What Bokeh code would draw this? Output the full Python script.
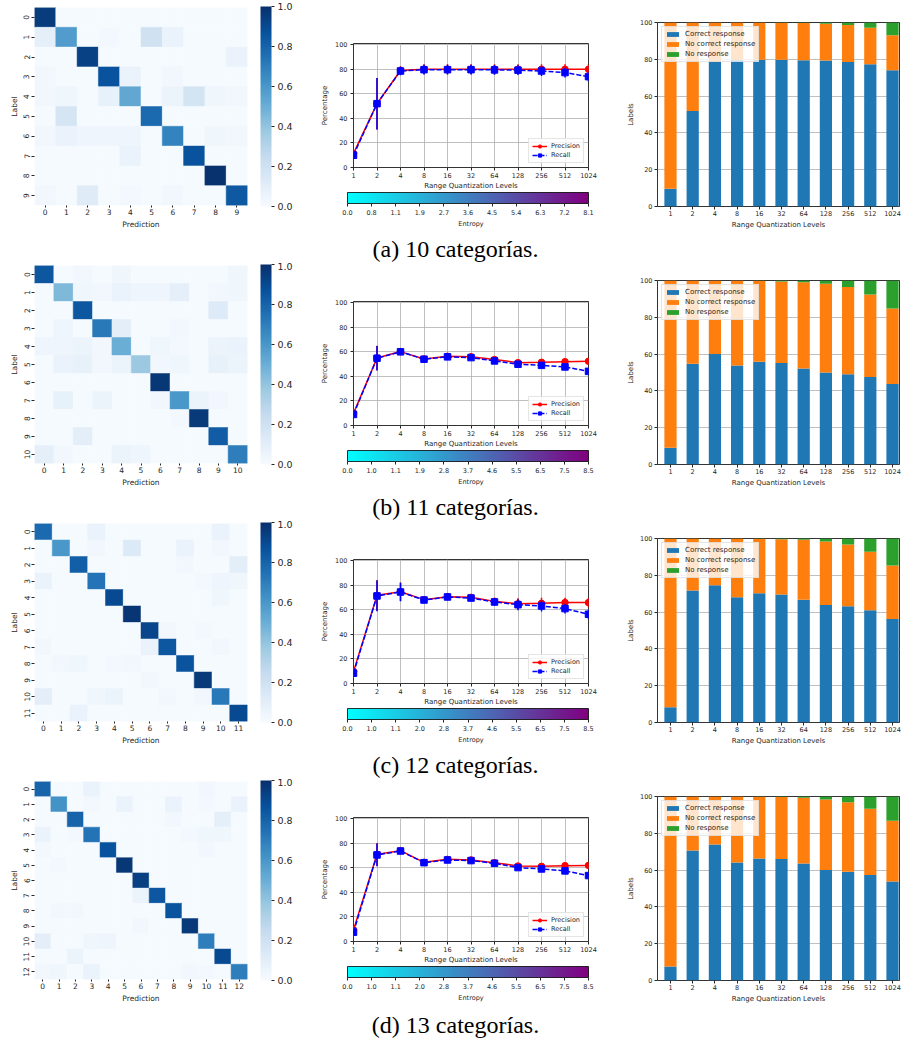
from bokeh.plotting import figure
from bokeh.layouts import row, column
from bokeh.models import (ColorBar, LinearColorMapper, FixedTicker, Range1d, FactorRange,
                          Legend, LegendItem, Title, Label, NumeralTickFormatter,
                          PrintfTickFormatter, ColumnDataSource)
from bokeh.palettes import Blues256
from bokeh.transform import linear_cmap
from bokeh.embed import file_html
from bokeh.resources import INLINE

# ---------------- data ----------------
levels = [1, 2, 4, 8, 16, 32, 64, 128, 256, 512, 1024]
level_labels = ["1", "2", "4", "8", "16", "32", "64", "128", "256", "512", "1024"]
captions = ["(a) 10 categorías.", "(b) 11 categorías.", "(c) 12 categorías.", "(d) 13 categorías."]
heat_ticks = [0.0, 0.2, 0.4, 0.6, 0.8, 1.0]
pct_ticks = [0, 20, 40, 60, 80, 100]
series_names = ["Correct response", "No correct response", "No response"]

entropy_a = ["0.0", "0.8", "1.1", "1.9", "2.7", "3.6", "4.5", "5.4", "6.3", "7.2", "8.1"]
entropy_b = ["0.0", "1.0", "1.1", "1.9", "2.8", "3.7", "4.6", "5.5", "6.5", "7.5", "8.5"]
entropy_c = ["0.0", "1.0", "1.1", "2.0", "2.8", "3.7", "4.6", "5.5", "6.5", "7.5", "8.5"]
entropy_d = ["0.0", "1.0", "1.1", "2.0", "2.8", "3.7", "4.6", "5.5", "6.5", "7.5", "8.5"]

precision_a = [11.4, 52.0, 79.0, 80.0, 80.0, 80.0, 80.0, 80.0, 80.0, 80.0, 80.0]
precision_err_a = [1.0, 21.0, 3.5, 4.0, 4.0, 4.0, 4.0, 4.0, 4.0, 4.0, 4.0]
recall_a = [10.0, 52.0, 78.6, 79.7, 79.7, 79.7, 79.5, 79.3, 78.6, 77.3, 74.0]
recall_err_a = [1.0, 21.0, 3.5, 4.0, 4.0, 4.0, 4.0, 4.0, 4.0, 4.0, 4.0]

precision_b = [10.0, 55.0, 60.2, 54.2, 56.4, 56.0, 53.7, 51.2, 51.5, 52.0, 52.3]
precision_err_b = [1.0, 10.0, 1.5, 1.5, 1.5, 1.5, 1.5, 1.8, 2.0, 2.0, 2.0]
recall_b = [9.0, 54.8, 60.0, 54.0, 55.9, 55.3, 52.6, 49.9, 49.0, 47.7, 44.1]
recall_err_b = [1.0, 10.0, 1.5, 1.5, 1.5, 1.5, 1.5, 1.8, 2.0, 2.0, 2.0]

precision_c = [9.7, 71.8, 74.8, 68.3, 70.7, 70.2, 66.9, 65.0, 65.3, 65.9, 65.9]
precision_err_c = [1.0, 12.5, 7.5, 2.5, 2.5, 2.5, 3.0, 4.5, 4.5, 4.0, 4.0]
recall_c = [8.4, 71.3, 74.5, 68.0, 70.5, 69.6, 66.4, 64.2, 63.1, 61.0, 56.4]
recall_err_c = [1.0, 12.5, 7.5, 2.5, 2.5, 2.5, 3.0, 4.5, 4.5, 4.0, 4.0]

precision_d = [9.5, 71.0, 74.0, 64.5, 66.9, 66.4, 64.2, 61.5, 61.2, 61.8, 62.0]
precision_err_d = [1.0, 9.3, 1.5, 1.5, 1.5, 1.5, 1.5, 1.5, 1.5, 1.5, 1.5]
recall_d = [7.6, 70.5, 73.7, 64.2, 66.4, 65.9, 63.7, 60.2, 59.1, 57.5, 53.7]
recall_err_d = [1.0, 9.3, 1.5, 1.5, 1.5, 1.5, 1.5, 1.5, 1.5, 1.5, 1.5]

correct_a = [9.6, 51.9, 78.6, 79.7, 79.7, 79.7, 79.5, 79.3, 78.6, 77.3, 74.0]
noresp_a = [0.0, 0.0, 0.0, 0.0, 0.0, 0.1, 0.3, 0.7, 1.3, 2.9, 6.9]
correct_b = [9.1, 54.7, 60.0, 53.8, 55.8, 55.1, 52.2, 50.0, 49.1, 47.5, 43.8]
noresp_b = [0.0, 0.0, 0.0, 0.0, 0.1, 0.5, 0.9, 1.8, 3.6, 7.6, 15.2]
correct_c = [8.3, 71.7, 74.6, 68.1, 70.3, 69.6, 66.7, 63.9, 63.2, 61.0, 56.3]
noresp_c = [0.0, 0.0, 0.0, 0.0, 0.1, 0.4, 0.7, 1.6, 3.3, 7.2, 14.7]
correct_d = [7.6, 70.7, 73.9, 64.1, 66.3, 66.1, 63.6, 60.0, 59.1, 57.4, 53.8]
noresp_d = [0.0, 0.0, 0.0, 0.0, 0.1, 0.3, 0.7, 1.6, 3.1, 6.7, 13.2]

# confusion matrices: diagonal + notable off-diagonal cells (row, col, value); rest ~ cm_base
cm_base = 0.01
cm_diag_a = [0.95, 0.58, 0.93, 0.87, 0.53, 0.78, 0.68, 0.87, 0.99, 0.84]
cm_off_a = [(1, 0, 0.09), (1, 5, 0.20), (1, 6, 0.07), (1, 3, 0.02), (2, 9, 0.07), (3, 4, 0.07),
            (3, 0, 0.03), (3, 6, 0.03), (4, 0, 0.03), (4, 1, 0.04), (4, 3, 0.08), (4, 6, 0.06),
            (4, 7, 0.18), (4, 8, 0.04), (4, 9, 0.03), (5, 1, 0.17), (6, 0, 0.03), (6, 1, 0.07),
            (6, 2, 0.05), (6, 3, 0.05), (6, 4, 0.05), (6, 8, 0.04), (6, 9, 0.03), (7, 4, 0.07),
            (9, 0, 0.03), (9, 2, 0.12), (9, 4, 0.02), (9, 6, 0.03)]
cm_diag_b = [0.85, 0.45, 0.85, 0.72, 0.50, 0.38, 0.97, 0.60, 0.96, 0.83, 0.70]
cm_off_b = [(0, 2, 0.03), (0, 4, 0.04), (0, 10, 0.04), (1, 2, 0.04), (1, 3, 0.03), (1, 4, 0.07),
            (1, 5, 0.05), (1, 6, 0.05), (1, 7, 0.09), (1, 9, 0.03), (1, 10, 0.04), (2, 9, 0.13),
            (3, 1, 0.05), (3, 4, 0.10), (3, 7, 0.03), (4, 0, 0.05), (4, 1, 0.05), (4, 2, 0.06),
            (4, 3, 0.03), (4, 6, 0.04), (4, 7, 0.02), (4, 9, 0.06), (4, 10, 0.07), (5, 1, 0.07),
            (5, 2, 0.08), (5, 3, 0.03), (5, 4, 0.06), (5, 6, 0.03), (5, 7, 0.04), (5, 9, 0.08),
            (5, 10, 0.06), (7, 1, 0.08), (7, 3, 0.06), (7, 6, 0.03), (7, 8, 0.06), (7, 9, 0.03),
            (8, 7, 0.02), (9, 2, 0.10), (10, 0, 0.09), (10, 1, 0.03), (10, 4, 0.06), (10, 5, 0.05)]
cm_diag_c = [0.78, 0.60, 0.82, 0.74, 0.90, 0.98, 0.92, 0.85, 0.86, 0.96, 0.72, 0.90]
cm_off_c = [(0, 3, 0.07), (0, 10, 0.07), (1, 3, 0.03), (1, 5, 0.14), (1, 8, 0.07), (1, 10, 0.03),
            (2, 8, 0.03), (2, 11, 0.10), (3, 0, 0.07), (3, 9, 0.02), (3, 10, 0.05), (3, 11, 0.04),
            (4, 10, 0.04), (6, 7, 0.03), (6, 9, 0.02), (7, 0, 0.03), (7, 6, 0.07), (7, 10, 0.03),
            (8, 1, 0.03), (8, 2, 0.04), (8, 4, 0.02), (8, 5, 0.03), (9, 6, 0.03), (10, 0, 0.10),
            (10, 3, 0.04), (10, 4, 0.06), (10, 7, 0.03), (10, 9, 0.03), (11, 2, 0.07)]
cm_diag_d = [0.80, 0.62, 0.80, 0.74, 0.87, 0.97, 0.94, 0.85, 0.86, 0.96, 0.70, 0.90, 0.70]
cm_off_d = [(0, 3, 0.07), (0, 10, 0.03), (1, 3, 0.02), (1, 5, 0.07), (1, 8, 0.07), (1, 10, 0.02),
            (1, 12, 0.07), (2, 8, 0.03), (2, 11, 0.09), (3, 0, 0.07), (3, 2, 0.02), (3, 9, 0.02),
            (3, 10, 0.04), (3, 11, 0.04), (4, 0, 0.02), (4, 10, 0.03), (5, 1, 0.02), (7, 6, 0.06),
            (8, 1, 0.03), (8, 2, 0.03), (9, 6, 0.03), (10, 0, 0.10), (10, 3, 0.04), (10, 4, 0.05),
            (11, 2, 0.06), (12, 0, 0.03), (12, 1, 0.04), (12, 3, 0.07), (12, 9, 0.03), (12, 10, 0.02)]

# ---------------- style ----------------
FONT = "DejaVu Sans"
TXT = "#262626"
BLUES = list(Blues256)[::-1]          # light -> dark
BAR_COLORS = ["#1f77b4", "#ff7f0e", "#2ca02c"]


def _interp_palette(c0, c1, n=256):
    out = []
    for i in range(n):
        t = i / (n - 1)
        r, g, b = (round(a + (bb - a) * t) for a, bb in zip(c0, c1))
        out.append("#%02x%02x%02x" % (r, g, b))
    return out


ENTROPY_PALETTE = _interp_palette((0, 255, 255), (128, 0, 128))

ROW_H = 227
HEAT_W, LINE_W, BAR_W = 318, 305, 279
TOTAL_W = HEAT_W + LINE_W + BAR_W


def style_axis(ax, tick_size, label_size):
    ax.major_label_text_font = FONT
    ax.major_label_text_font_size = tick_size
    ax.axis_label_text_font = FONT
    ax.axis_label_text_font_size = label_size
    ax.axis_label_text_font_style = "normal"
    ax.major_label_text_color = TXT
    ax.axis_label_text_color = TXT
    ax.major_tick_line_color = TXT
    ax.major_tick_in = 0
    ax.minor_tick_line_color = None


def heat_panel(diag, off, pad):
    n = len(diag)
    names = [str(i) for i in range(n)]
    offd = {(r, c): v for r, c, v in off}
    xs, ys, vs = [], [], []
    for r in range(n):
        for c in range(n):
            xs.append(names[c])
            ys.append(names[r])
            vs.append(diag[r] if r == c else offd.get((r, c), cm_base))
    src = ColumnDataSource(dict(x=xs, y=ys, v=vs))
    p = figure(width=HEAT_W, height=ROW_H + pad, x_range=FactorRange(*names),
               y_range=FactorRange(*names[::-1]), output_backend="svg", toolbar_location=None,
               frame_align=False,
               min_border_left=34, min_border_right=71, min_border_top=3 + pad, min_border_bottom=24)
    p.outline_line_color = None
    p.grid.visible = False
    cmap = linear_cmap("v", BLUES, 0, 1)
    p.rect(x="x", y="y", width=1, height=1, source=src, fill_color=cmap, line_color=cmap,
           line_width=0.5)
    p.xaxis.axis_label = "Prediction"
    p.yaxis.axis_label = "Label"
    for ax in (p.xaxis[0], p.yaxis[0]):
        style_axis(ax, "7.5px", "7.5px")
        ax.axis_line_color = None
        ax.major_label_standoff = 2
        ax.axis_label_standoff = 2
    p.xaxis.major_tick_out = 2
    p.xaxis.major_label_standoff = 1
    p.yaxis.major_tick_out = 3
    p.yaxis.major_label_orientation = "vertical"
    cb = ColorBar(color_mapper=LinearColorMapper(palette=BLUES, low=0, high=1),
                  ticker=FixedTicker(ticks=heat_ticks), formatter=PrintfTickFormatter(format="%.1f"),
                  width=11, height=200, location="center_left", margin=0, padding=13,
                  major_tick_line_color=TXT, major_tick_in=0, major_tick_out=3, label_standoff=3,
                  major_label_text_font=FONT, major_label_text_font_size="9.5px",
                  major_label_text_color=TXT, bar_line_color=None, border_line_color=None,
                  background_fill_color=None)
    p.add_layout(cb, "right")
    return p


def line_panel(prec, prec_err, rec, rec_err, ent, pad):
    p = figure(width=LINE_W, height=ROW_H + pad, x_axis_type="log", x_range=Range1d(1, 1024),
               y_range=Range1d(0, 101), output_backend="svg", toolbar_location=None,
               frame_align=False,
               min_border_left=29, min_border_right=35, min_border_top=39 + pad, min_border_bottom=64)
    p.outline_line_color = "black"
    p.outline_line_width = 0.8
    xt = FixedTicker(ticks=levels, minor_ticks=[])
    yt = FixedTicker(ticks=pct_ticks, minor_ticks=[])
    p.xaxis.ticker = xt
    p.xgrid.ticker = xt
    p.yaxis.ticker = yt
    p.ygrid.ticker = yt
    p.xaxis.formatter = NumeralTickFormatter(format="0")
    p.grid.grid_line_color = "#b0b0b0"
    p.grid.grid_line_width = 0.8
    p.xaxis.axis_label = "Range Quantization Levels"
    p.yaxis.axis_label = "Percentage"
    for ax in (p.xaxis[0], p.yaxis[0]):
        style_axis(ax, "6.5px", "7px")
        ax.axis_line_color = None
        ax.major_tick_out = 3
    p.yaxis.major_label_standoff = 3
    p.yaxis.axis_label_standoff = 3
    p.xaxis.major_label_standoff = 2
    p.xaxis.axis_label_standoff = 1

    p_lo = [v - e for v, e in zip(prec, prec_err)]
    p_hi = [v + e for v, e in zip(prec, prec_err)]
    r_lo = [v - e for v, e in zip(rec, rec_err)]
    r_hi = [v + e for v, e in zip(rec, rec_err)]
    p.segment(x0=levels, y0=p_lo, x1=levels, y1=p_hi, line_color="red", line_width=1.5)
    l1 = p.line(levels, prec, line_color="red", line_width=1.5)
    s1 = p.scatter(levels, prec, marker="circle", size=6.5, color="red")
    p.segment(x0=levels, y0=r_lo, x1=levels, y1=r_hi, line_color="blue", line_width=1.5)
    l2 = p.line(levels, rec, line_color="blue", line_width=1.5, line_dash="5 2")
    s2 = p.scatter(levels, rec, marker="square", size=6.5, color="blue")

    leg = Legend(items=[LegendItem(label="Precision", renderers=[l1, s1]),
                        LegendItem(label="Recall", renderers=[l2, s2])],
                 location="bottom_right", label_text_font=FONT, label_text_font_size="6.5px",
                 label_text_color=TXT, glyph_width=15, glyph_height=8, label_height=8,
                 spacing=1, padding=3, margin=4, label_standoff=4,
                 border_line_color="#cccccc", background_fill_alpha=0.8)
    p.add_layout(leg)

    cb = ColorBar(color_mapper=LinearColorMapper(palette=ENTROPY_PALETTE, low=0, high=10),
                  orientation="horizontal", width=241, height=11, margin=6, padding=0,
                  ticker=FixedTicker(ticks=list(range(11))),
                  major_label_overrides={i: ent[i] for i in range(11)},
                  major_tick_line_color=TXT, major_tick_in=0, major_tick_out=3, label_standoff=3,
                  major_label_text_font=FONT, major_label_text_font_size="6.5px",
                  major_label_text_color=TXT, bar_line_color="black", bar_line_width=0.8,
                  border_line_color=None, background_fill_color=None)
    p.add_layout(cb, "below")
    p.add_layout(Title(text="Entropy", align="center", text_font=FONT, text_font_size="6.5px",
                       text_font_style="normal", text_color=TXT, standoff=0, offset=0), "below")
    return p


def bar_panel(correct, noresp, pad):
    nocorrect = [round(100 - c - n, 2) for c, n in zip(correct, noresp)]
    idx = list(range(len(level_labels)))
    src = ColumnDataSource(dict(x=idx, correct=correct, nocorrect=nocorrect, noresp=noresp))
    p = figure(width=BAR_W, height=ROW_H + pad, x_range=Range1d(-0.585, 10.315),
               y_range=Range1d(0, 100), output_backend="svg", toolbar_location=None,
               frame_align=False,
               min_border_left=34, min_border_right=3, min_border_top=18 + pad, min_border_bottom=25)
    p.outline_line_color = "black"
    p.outline_line_width = 0.8
    p.xgrid.visible = False
    xt = FixedTicker(ticks=idx, minor_ticks=[])
    yt = FixedTicker(ticks=pct_ticks, minor_ticks=[])
    p.xaxis.ticker = xt
    p.xaxis.major_label_overrides = {i: level_labels[i] for i in idx}
    p.yaxis.ticker = yt
    p.ygrid.ticker = yt
    p.ygrid.grid_line_color = "#b0b0b0"
    p.ygrid.grid_line_width = 0.8
    rs = p.vbar_stack(["correct", "nocorrect", "noresp"], x="x", width=0.55, color=BAR_COLORS,
                      line_color=None, source=src)
    p.xaxis.axis_label = "Range Quantization Levels"
    p.yaxis.axis_label = "Labels"
    for ax in (p.xaxis[0], p.yaxis[0]):
        style_axis(ax, "6.5px", "7px")
        ax.axis_line_color = None
        ax.major_tick_out = 3
        ax.major_label_standoff = 2
        ax.axis_label_standoff = 2
    p.xaxis.major_label_standoff = 1
    leg = Legend(items=[LegendItem(label=series_names[i], renderers=[rs[i]]) for i in range(3)],
                 location="top_left", label_text_font=FONT, label_text_font_size="7px",
                 label_text_color=TXT, glyph_width=15, glyph_height=6, label_height=8,
                 spacing=2, padding=3, margin=4, label_standoff=5,
                 border_line_color="#cccccc", background_fill_alpha=0.8)
    p.add_layout(leg)
    return p


def caption_panel(text, h, from_top):
    p = figure(width=TOTAL_W, height=h, x_range=Range1d(0, TOTAL_W), y_range=Range1d(0, h),
               output_backend="svg", toolbar_location=None, min_border=0, frame_align=False,
               x_axis_location=None, y_axis_location=None, outline_line_color=None)
    p.grid.visible = False
    p.add_layout(Label(x=455, y=h - from_top, text=text,
                       text_align="center", text_baseline="middle",
                       text_font="Liberation Serif", text_font_size="24px", text_color="black"))
    return p


rows_data = [
    (cm_diag_a, cm_off_a, precision_a, precision_err_a, recall_a, recall_err_a, entropy_a, correct_a, noresp_a),
    (cm_diag_b, cm_off_b, precision_b, precision_err_b, recall_b, recall_err_b, entropy_b, correct_b, noresp_b),
    (cm_diag_c, cm_off_c, precision_c, precision_err_c, recall_c, recall_err_c, entropy_c, correct_c, noresp_c),
    (cm_diag_d, cm_off_d, precision_d, precision_err_d, recall_d, recall_err_d, entropy_d, correct_d, noresp_d),
]

children = []
for k, (dg, of, pr, pe, rc, re_, en, co, nr) in enumerate(rows_data):
    pad = 4 if k == 0 else 0
    children.append(row(heat_panel(dg, of, pad), line_panel(pr, pe, rc, re_, en, pad),
                        bar_panel(co, nr, pad)))
    if k < 3:
        children.append(caption_panel(captions[k], 31, 17.5))
    else:
        children.append(caption_panel(captions[k], 33, 19.5))

layout = column(*children)
open("out.html", "w").write(file_html(layout, INLINE))
